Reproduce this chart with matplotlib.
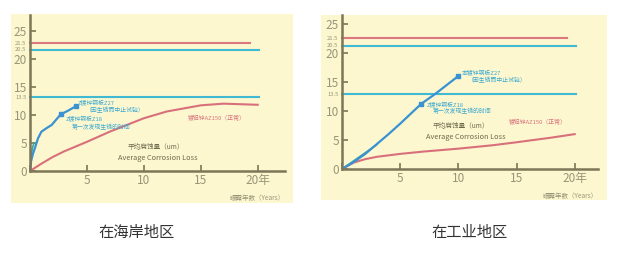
import matplotlib
matplotlib.use("Agg")
import matplotlib.pyplot as plt
from matplotlib.patches import Rectangle

plt.rcParams['font.family'] = ['Noto Sans CJK SC', 'DejaVu Sans']

# ---- data ----
# labelled reference levels (the picture draws them slightly off scale)
level_labels = ["21.5", "20.5", "13.5"]
level_colors = ["#dc7880", "#3fbad2", "#3fbad2"]
coast_level_y = [22.8, 21.6, 13.1]
ind_level_y = [22.5, 21.2, 12.9]
level_ends = [19.3, 20.1, 20.1]

x_ticks = [0, 5, 10, 15, 20]
x_labels = ["", "5", "10", "15", "20年"]
y_ticks = [0, 5, 10, 15, 20, 25]

# coastal area
coast_az_x = [0, 1, 2, 3, 5, 7, 10, 12, 15, 17, 18.5, 20]
coast_az_y = [0, 1.3, 2.5, 3.5, 5.2, 7.0, 9.4, 10.6, 11.7, 12.0, 11.9, 11.8]
coast_zn_x = [0, 0.1, 0.25, 0.45, 0.7, 1.0, 1.5, 1.9, 2.7, 3.3, 4.0]
coast_zn_y = [0, 1.8, 3.0, 4.2, 5.8, 7.0, 7.7, 8.2, 10.1, 10.7, 11.5]
coast_z18_x = [0, 0.1, 0.2, 0.35]
coast_z18_y = [0, 2.5, 4.0, 5.0]
coast_marks = [(2.7, 10.1), (4.0, 11.5)]

# industrial area
ind_az_x = [0, 1, 2, 3, 5, 7, 10, 13, 15, 18, 20]
ind_az_y = [0, 1.1, 1.7, 2.1, 2.6, 3.0, 3.5, 4.1, 4.6, 5.4, 6.0]
ind_zn_x = [0, 1, 2, 3, 4, 5, 6.8, 8, 10]
ind_zn_y = [0, 1.2, 2.6, 4.3, 6.0, 7.8, 11.2, 12.9, 16.0]
ind_z18_x = [0, 1, 2, 3]
ind_z18_y = [0, 1.4, 2.8, 4.2]
ind_marks = [(6.8, 11.2), (10.0, 16.0)]

W, H = 626, 260
fig = plt.figure(figsize=(W / 100, H / 100), dpi=100)

bg = "#fcf7cf"
axis_col = "#7d7658"
tick_col = "#9a9578"
blue = "#3a92d2"
green = "#3aa59a"
red = "#d8707c"
cyan_txt = "#3aa8cf"
dark_txt = "#6f6a4c"


def px_axes(l, t, r, b):
    return fig.add_axes([l / W, 1 - b / H, (r - l) / W, (b - t) / H])


def panel(box, frame, xmax, ymax, level_y, az, zn, z18, marks, notes, mid, caption, cap_x):
    # yellow backdrop
    fig.patches.append(Rectangle((box[0] / W, 1 - box[3] / H), (box[2] - box[0]) / W,
                                 (box[3] - box[1]) / H, transform=fig.transFigure,
                                 facecolor=bg, edgecolor="none", zorder=-10))
    ax = px_axes(*frame)
    ax.set_facecolor("none")
    ax.set_xlim(0, xmax)
    ax.set_ylim(0, ymax)
    for s in ["top", "right"]:
        ax.spines[s].set_visible(False)
    for s in ["left", "bottom"]:
        ax.spines[s].set_color(axis_col)
        ax.spines[s].set_linewidth(1.8)
    ax.set_xticks(x_ticks)
    ax.set_xticklabels(x_labels)
    ax.set_yticks(y_ticks)
    ax.tick_params(direction="in", length=4, width=1.2, color=axis_col,
                   labelcolor=tick_col, labelsize=8.5, pad=2)

    for lab, lv, c, e in zip(level_labels, level_y, level_colors, level_ends):
        ax.plot([0, e], [lv, lv], color=c, lw=1.5, clip_on=False)
        ax.text(-0.3, lv, lab, fontsize=4.2, color=tick_col, ha="right", va="center")

    ax.plot(az[0], az[1], color=red, lw=1.5)
    ax.plot(z18[0], z18[1], color=green, lw=1.2)
    ax.plot(zn[0], zn[1], color=blue, lw=1.6)
    for mx, my in marks:
        ax.plot(mx, my, marker="s", ms=2.5, color=blue)

    for (tx, ty, s, c) in notes:
        ax.text(tx, ty, s, fontsize=4.2, color=c, va="center")

    ax.text(mid[0], mid[1], "平均腐蚀量（um）", fontsize=4.8, color=dark_txt,
            ha="center", va="center")
    ax.text(mid[2], mid[3], "Average Corrosion Loss", fontsize=5.3, color=dark_txt,
            ha="center", va="center")
    ax.text(1.0, -0.15, "曝露年数（Years）", fontsize=4.7, color=tick_col, ha="right",
            va="top", transform=ax.transAxes)

    fig.text(cap_x / W, 1 - 232 / H, caption, fontsize=11, color="#333333",
             ha="center", va="center")


panel((11, 14, 293, 203), (30, 15, 285, 171), 22.4, 27.8, coast_level_y,
      (coast_az_x, coast_az_y), (coast_zn_x, coast_zn_y), (coast_z18_x, coast_z18_y),
      coast_marks,
      [(4.2, 12.2, "Z镀锌钢板Z27", cyan_txt),
       (4.9, 10.8, "（因生锈而中止试验）", cyan_txt),
       (3.1, 9.4, "Z镀锌钢板Z18", cyan_txt),
       (3.7, 7.9, "第一次发现生锈的时间", cyan_txt),
       (13.9, 9.4, "镀铝锌AZ150（正常）", red)],
      (11.1, 4.2, 11.2, 2.4),
      "在海岸地区", 137)

panel((321, 15, 607, 200), (342, 15, 598, 169), 22.0, 26.5, ind_level_y,
      (ind_az_x, ind_az_y), (ind_zn_x, ind_zn_y), (ind_z18_x, ind_z18_y),
      ind_marks,
      [(10.3, 16.7, "本镀锌钢板Z27", cyan_txt),
       (10.8, 15.3, "（因生锈而中止试验）", cyan_txt),
       (7.3, 11.2, "Z镀锌钢板Z18", cyan_txt),
       (7.8, 10.0, "第一次发现生锈的时间", cyan_txt),
       (14.3, 8.1, "镀铝锌AZ150（正常）", red)],
      (10.2, 7.4, 10.6, 5.5),
      "在工业地区", 470)

fig.savefig("out.png", dpi=100, facecolor="white")
